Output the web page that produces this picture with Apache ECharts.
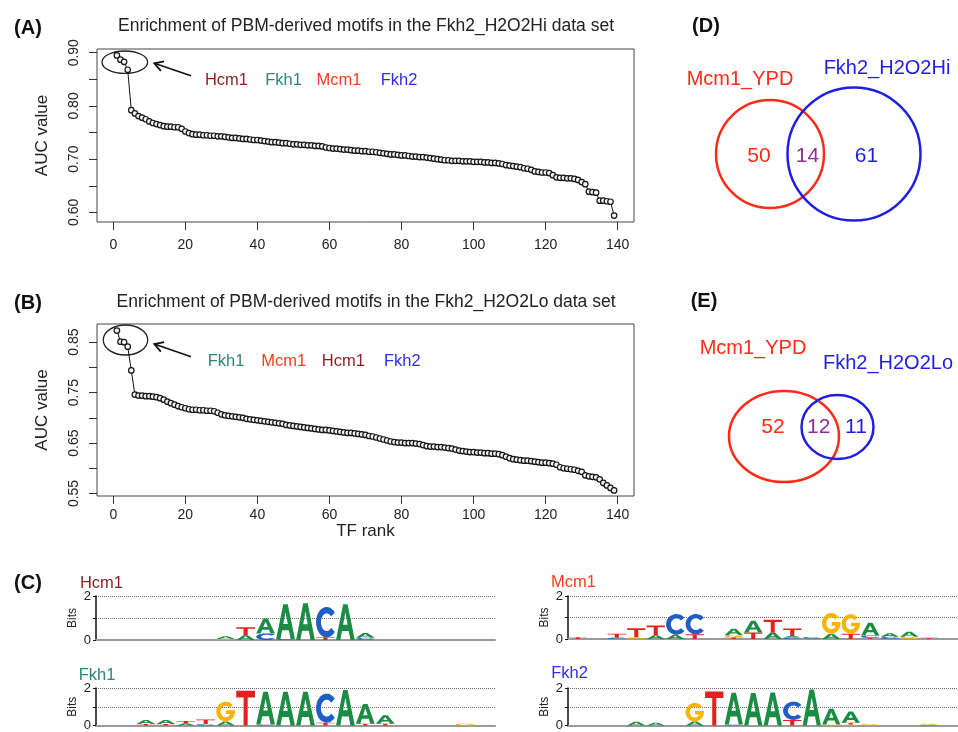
<!DOCTYPE html>
<html>
<head>
<meta charset="utf-8">
<script src="https://cdn.jsdelivr.net/npm/echarts@6.0.0/dist/echarts.min.js"></script>
<style>html,body{margin:0;padding:0;background:#fff}#c{width:958px;height:732px}</style>
</head>
<body>
<div id="c"></div>
<script>
// ---------------- DATA ----------------
// AUC values of 139 PBM-derived motifs, ranked (panel A: Fkh2_H2O2Hi)
const aucHi = [
0.895,0.887,0.883,0.868,0.792,0.786,0.781,0.778,0.775,0.771,
0.768,0.766,0.764,0.762,0.761,0.761,0.760,0.760,0.757,0.752,
0.749,0.747,0.746,0.746,0.745,0.745,0.744,0.744,0.743,0.743,
0.742,0.741,0.740,0.740,0.739,0.738,0.738,0.737,0.736,0.736,
0.735,0.734,0.733,0.732,0.732,0.731,0.730,0.730,0.729,0.728,
0.728,0.727,0.727,0.726,0.726,0.725,0.725,0.724,0.722,0.721,
0.720,0.720,0.719,0.718,0.718,0.717,0.716,0.716,0.715,0.715,
0.714,0.714,0.713,0.712,0.711,0.710,0.709,0.709,0.708,0.707,
0.707,0.706,0.705,0.705,0.704,0.704,0.703,0.702,0.701,0.700,
0.699,0.698,0.698,0.697,0.697,0.697,0.696,0.696,0.696,0.695,
0.695,0.695,0.694,0.694,0.693,0.693,0.692,0.691,0.689,0.688,
0.687,0.686,0.685,0.683,0.682,0.680,0.677,0.676,0.675,0.675,
0.674,0.670,0.666,0.665,0.665,0.664,0.664,0.663,0.661,0.657,
0.653,0.639,0.638,0.637,0.622,0.622,0.621,0.620,0.594];
// panel B: Fkh2_H2O2Lo
const aucLo = [
0.873,0.851,0.850,0.841,0.794,0.746,0.744,0.744,0.743,0.743,
0.742,0.741,0.739,0.736,0.732,0.729,0.726,0.723,0.721,0.719,
0.717,0.716,0.716,0.715,0.715,0.714,0.714,0.713,0.710,0.707,
0.705,0.704,0.703,0.702,0.701,0.700,0.698,0.697,0.696,0.695,
0.694,0.693,0.692,0.691,0.690,0.689,0.688,0.686,0.685,0.684,
0.683,0.682,0.681,0.680,0.679,0.678,0.677,0.676,0.676,0.675,
0.674,0.673,0.672,0.671,0.670,0.670,0.669,0.668,0.667,0.666,
0.664,0.663,0.661,0.659,0.657,0.655,0.653,0.652,0.651,0.651,
0.650,0.650,0.650,0.649,0.648,0.646,0.644,0.643,0.643,0.642,
0.642,0.641,0.640,0.639,0.637,0.635,0.634,0.633,0.632,0.632,
0.631,0.631,0.630,0.630,0.629,0.629,0.628,0.626,0.623,0.620,
0.618,0.617,0.616,0.615,0.615,0.614,0.613,0.612,0.611,0.611,
0.610,0.609,0.607,0.602,0.600,0.599,0.598,0.597,0.595,0.593,
0.586,0.584,0.583,0.582,0.578,0.571,0.566,0.561,0.556];

const rankTicks = [0,20,40,60,80,100,120,140];
const hiTicks = [0.60,0.65,0.70,0.75,0.80,0.85,0.90];
const hiLabels = [0.60,0.70,0.80,0.90];
const loTicks = [0.55,0.60,0.65,0.70,0.75,0.80,0.85];
const loLabels = [0.55,0.65,0.75,0.85];

const hiTopTFs = ['Hcm1','Fkh1','Mcm1','Fkh2'];
const loTopTFs = ['Fkh1','Mcm1','Hcm1','Fkh2'];

// Venn counts: [only set 1, overlap, only set 2]
const vennHiSets = ['Mcm1_YPD','Fkh2_H2O2Hi'];
const vennHiCounts = [50, 14, 61];
const vennLoSets = ['Mcm1_YPD','Fkh2_H2O2Lo'];
const vennLoCounts = [52, 12, 11];

// Sequence logos: [position, letter, bits], listed bottom -> top
const logoHcm1 = [
[6,'G',0.05],[6,'A',0.12],
[7,'A',0.22],[7,'T',0.36],
[8,'C',0.3],[8,'A',0.68],
[9,'C',0.05],[9,'A',1.57],
[10,'A',1.67],
[11,'T',0.12],[11,'C',1.38],
[12,'A',1.62],
[13,'C',0.1],[13,'A',0.22]];
const logoFkh1 = [
[2,'T',0.08],[2,'A',0.22],
[3,'T',0.08],[3,'A',0.22],
[4,'A',0.12],[4,'T',0.12],
[5,'C',0.08],[5,'T',0.24],
[6,'A',0.22],[6,'G',1.05],
[7,'T',1.85],
[8,'C',0.05],[8,'A',1.75],
[9,'A',1.8],
[10,'A',1.8],
[11,'T',0.15],[11,'C',1.55],
[12,'A',1.9],
[13,'T',0.1],[13,'A',1.05],
[14,'T',0.1],[14,'A',0.45],
[18,'G',0.1]];
const logoMcm1 = [
[0,'T',0.08],
[2,'C',0.06],[2,'T',0.18],
[3,'G',0.08],[3,'T',0.42],
[4,'A',0.18],[4,'T',0.45],
[5,'A',0.2],[5,'C',0.96],
[6,'T',0.22],[6,'C',0.94],
[8,'T',0.08],[8,'G',0.1],[8,'A',0.3],
[9,'T',0.3],[9,'A',0.55],
[10,'A',0.3],[10,'T',0.6],
[11,'C',0.08],[11,'A',0.06],[11,'T',0.35],
[12,'A',0.03],[12,'C',0.06],
[13,'A',0.25],[13,'G',0.96],
[14,'T',0.25],[14,'G',0.9],
[15,'T',0.06],[15,'C',0.1],[15,'A',0.6],
[16,'C',0.1],[16,'A',0.17],
[17,'G',0.1],[17,'A',0.24],
[18,'T',0.06]];
const logoFkh2 = [
[3,'A',0.2],
[4,'A',0.15],
[6,'A',0.22],[6,'G',0.98],
[7,'T',1.81],
[8,'C',0.05],[8,'A',1.7],
[9,'A',1.74],
[10,'A',1.76],
[11,'T',0.3],[11,'C',0.97],
[12,'A',1.92],
[13,'G',0.05],[13,'A',0.85],
[14,'G',0.05],[14,'T',0.1],[14,'A',0.6],
[15,'G',0.08],
[18,'A',0.04],[18,'G',0.06]];

// ---------------- STYLE ----------------
const FONT = "'Liberation Sans', Arial, Helvetica, sans-serif";
const tfColors = {Hcm1:'#8E1F1F', Fkh1:'#2B8674', Mcm1:'#FF3B1F', Fkh2:'#2E2EF0'};
const RED = '#FF2B17', BLUE = '#1F1FE3', PURPLE = '#8E2E93';
const letterColor = {A:'#1B8C44', C:'#1F5EC2', G:'#F6B400', T:'#E61F1F'};

// letter glyph outlines in a 100x100 box
function arc(cx, cy, rx, ry, a0, a1, n) {
  const pts = [];
  for (let i = 0; i <= n; i++) {
    const a = (a0 + (a1 - a0) * i / n) * Math.PI / 180;
    pts.push((cx + rx * Math.cos(a)).toFixed(2) + ' ' + (cy - ry * Math.sin(a)).toFixed(2));
  }
  return pts;
}
const PATH = {
  A: 'M38 0 L62 0 L100 100 L77 100 L68 75 L32 75 L23 100 L0 100 Z M38 57 L62 57 L50 22 Z',
  T: 'M0 0 L100 0 L100 19 L61 19 L61 100 L39 100 L39 19 L0 19 Z',
  C: (function(){ const o = arc(50,50,50,50,40,320,40), i = arc(50,50,27,29,320,40,40);
        return 'M' + o.join(' L') + ' L' + i.join(' L') + ' Z'; })(),
  G: (function(){ const o = arc(50,50,50,50,40,355,44), i = arc(50,50,27,29,335.6,40,40);
        return 'M' + o.join(' L') + ' L100 44 L52 44 L52 62 L74.6 62 L' + i.join(' L') + ' Z'; })()
};

function stackLogo(cols) {
  const base = {};
  return cols.map(function(c){
    const b = base[c[0]] || 0; base[c[0]] = b + c[2];
    return [c[0], b, c[2], 'ACGT'.indexOf(c[1])];
  });
}
const LETTERS = 'ACGT';
function renderLetter(params, api) {
  const k = api.value(0), b = api.value(1), h = api.value(2), L = LETTERS[api.value(3)];
  const p0 = api.coord([k + 0.03, b + h]);
  const p1 = api.coord([k + 0.97, b]);
  return {type:'path', shape:{pathData: PATH[L], x: p0[0], y: p0[1], width: p1[0]-p0[0], height: Math.max(0.6, p1[1]-p0[1]), layout:'cover'},
          style:{fill: letterColor[L]}};
}

// ---------------- LAYOUT ----------------
const gridsMain = [
  {left:97, top:49, width:537, height:173},
  {left:97, top:324, width:537, height:172}
];
const gridsLogo = [
  {left:96, top:596, width:399, height:44},
  {left:96, top:688, width:399, height:42},
  {left:568, top:596, width:399, height:43},
  {left:568, top:688, width:399, height:42}
];
const grids = gridsMain.map(g => Object.assign({show:true, borderColor:'#444', borderWidth:1, backgroundColor:'transparent'}, g))
  .concat(gridsLogo.map(g => Object.assign({show:false}, g)));

function rankAxis(gi, withName, margin) {
  return {gridIndex:gi, type:'value', min:-4.52, max:144.52,
    axisLine:{show:false, onZero:false}, splitLine:{show:false},
    axisTick:{show:true, length:8, customValues:rankTicks, lineStyle:{color:'#333'}},
    axisLabel:{customValues:rankTicks, fontSize:14, color:'#222', margin:margin, fontFamily:FONT},
    name: withName ? 'TF rank' : '', nameLocation:'middle', nameGap:25,
    nameTextStyle:{fontSize:17, color:'#222', fontFamily:FONT}};
}
function aucAxis(gi, min, max, ticks, labels) {
  return {gridIndex:gi, type:'value', min:min, max:max,
    axisLine:{show:false, onZero:false}, splitLine:{show:false},
    axisTick:{show:true, length:8, customValues:ticks, lineStyle:{color:'#333'}},
    axisLabel:{customValues:labels, formatter:function(v){return v.toFixed(2);}, rotate:90, fontSize:14, color:'#222', margin:16, fontFamily:FONT},
    name:'AUC value', nameLocation:'middle', nameGap:46,
    nameTextStyle:{fontSize:17, color:'#222', fontFamily:FONT}};
}
function logoX(gi) {
  return {gridIndex:gi, type:'value', min:0, max:20, axisLine:{show:true, onZero:false, lineStyle:{color:'#9a9a9a', width:2}},
    axisTick:{show:false}, axisLabel:{show:false}, splitLine:{show:false}};
}
function logoY(gi) {
  return {gridIndex:gi, type:'value', min:0, max:2, interval:1,
    axisLine:{show:true, onZero:false, lineStyle:{color:'#111', width:1.5}},
    axisTick:{show:true, length:3, customValues:[0,1,2], lineStyle:{color:'#111'}},
    axisLabel:{customValues:[0,2], fontSize:13, color:'#222', margin:5, fontFamily:FONT},
    splitLine:{show:true, lineStyle:{type:'dotted', color:'#6a6a6a', width:1}},
    name:'Bits', nameLocation:'middle', nameGap:17, nameTextStyle:{fontSize:12, color:'#222', fontFamily:FONT}};
}

function curveSeries(idx, vals) {
  return {type:'line', xAxisIndex:idx, yAxisIndex:idx, data: vals.map((v,i)=>[i+1, v]),
    symbol:'circle', symbolSize:5.5, showAllSymbol:true, silent:true,
    lineStyle:{color:'#111', width:1}, itemStyle:{color:'#f4f4f4', borderColor:'#151515', borderWidth:1.2}};
}
function logoSeries(idx, cols) {
  return {type:'custom', xAxisIndex:idx, yAxisIndex:idx, data: stackLogo(cols), renderItem: renderLetter, silent:true, clip:false};
}

// ---------------- GRAPHICS (annotations) ----------------
const G = [];
function txt(x, y, s, size, color, opt) {
  G.push({type:'text', x:x, y:y, silent:true,
    style:{text:s, fontSize:size, fill:color, fontFamily:FONT, textAlign:'center', textVerticalAlign:'middle', fontWeight: (opt && opt.bold) ? 'bold':'normal'}});
}
function arrow(x0, y0, x1, y1) {
  G.push({type:'line', silent:true, shape:{x1:x0, y1:y0, x2:x1, y2:y1}, style:{stroke:'#111', lineWidth:1.6}});
  const dx = x0 - x1, dy = y0 - y1, L = Math.hypot(dx, dy), ux = dx / L, uy = dy / L, len = 10, c = Math.cos(Math.PI/6), s = Math.sin(Math.PI/6);
  const a = [x1 + len*(ux*c - uy*s), y1 + len*(ux*s + uy*c)];
  const b = [x1 + len*(ux*c + uy*s), y1 + len*(-ux*s + uy*c)];
  G.push({type:'polyline', silent:true, shape:{points:[a, [x1, y1], b]}, style:{stroke:'#111', lineWidth:1.8, fill:null}});
}
// panel letters
txt(28, 28, '(A)', 20, '#111', {bold:true});
txt(28, 303, '(B)', 20, '#111', {bold:true});
txt(28, 583, '(C)', 20, '#111', {bold:true});
txt(706, 26, '(D)', 20, '#111', {bold:true});
txt(704, 301, '(E)', 20, '#111', {bold:true});
// chart titles
txt(366, 26, 'Enrichment of PBM-derived motifs in the Fkh2_H2O2Hi data set', 17.5, '#222');
txt(366, 302, 'Enrichment of PBM-derived motifs in the Fkh2_H2O2Lo data set', 17.5, '#222');
// top-ranked motif annotations
G.push({type:'ellipse', silent:true, shape:{cx:124.8, cy:62.2, rx:22.8, ry:11.2}, style:{fill:null, stroke:'#222', lineWidth:1.3}});
G.push({type:'ellipse', silent:true, shape:{cx:125.5, cy:340, rx:22.2, ry:15}, style:{fill:null, stroke:'#222', lineWidth:1.3}});
arrow(191, 75.7, 154.3, 63.3);
arrow(191, 356.7, 154.3, 344);
const hiX = [226.5, 283.5, 339, 399], loX = [226, 283.7, 343.3, 402.3];
hiTopTFs.forEach((t,i) => txt(hiX[i], 80, t, 16.5, tfColors[t]));
loTopTFs.forEach((t,i) => txt(loX[i], 361, t, 16.5, tfColors[t]));
// Venn D
G.push({type:'circle', silent:true, shape:{cx:770, cy:154, r:54}, style:{fill:null, stroke:RED, lineWidth:2.5}});
G.push({type:'circle', silent:true, shape:{cx:854, cy:154, r:66.5}, style:{fill:null, stroke:BLUE, lineWidth:2.5}});
txt(740, 79, vennHiSets[0], 20, RED);
txt(887, 68, vennHiSets[1], 20, BLUE);
txt(759, 156, String(vennHiCounts[0]), 21, RED);
txt(807.5, 156, String(vennHiCounts[1]), 21, PURPLE);
txt(866.5, 156, String(vennHiCounts[2]), 21, BLUE);
// Venn E
G.push({type:'ellipse', silent:true, shape:{cx:784, cy:436.5, rx:55, ry:45.5}, style:{fill:null, stroke:RED, lineWidth:2.5}});
G.push({type:'ellipse', silent:true, shape:{cx:837.5, cy:427, rx:36, ry:32}, style:{fill:null, stroke:BLUE, lineWidth:2.5}});
txt(753, 348, vennLoSets[0], 20, RED);
txt(888, 363, vennLoSets[1], 20, BLUE);
txt(773, 427, String(vennLoCounts[0]), 21, RED);
txt(818.7, 427, String(vennLoCounts[1]), 21, PURPLE);
txt(856, 427, String(vennLoCounts[2]), 21, BLUE);
// logo titles
txt(101.5, 583, 'Hcm1', 16.5, tfColors.Hcm1);
txt(97, 675, 'Fkh1', 16.5, tfColors.Fkh1);
txt(573.5, 582, 'Mcm1', 16.5, tfColors.Mcm1);
txt(569.5, 673, 'Fkh2', 16.5, tfColors.Fkh2);

const option = {
  animation:false,
  backgroundColor:'#ffffff',
  grid: grids,
  xAxis: [rankAxis(0,false,16), rankAxis(1,true,12), logoX(2), logoX(3), logoX(4), logoX(5)],
  yAxis: [aucAxis(0, 0.582, 0.907, hiTicks, hiLabels), aucAxis(1, 0.545, 0.886, loTicks, loLabels), logoY(2), logoY(3), logoY(4), logoY(5)],
  series: [curveSeries(0, aucHi), curveSeries(1, aucLo),
           logoSeries(2, logoHcm1), logoSeries(3, logoFkh1), logoSeries(4, logoMcm1), logoSeries(5, logoFkh2)],
  graphic: G
};
const chart = echarts.init(document.getElementById('c'), null, {renderer:'canvas'});
chart.setOption(option);
</script>
</body>
</html>
